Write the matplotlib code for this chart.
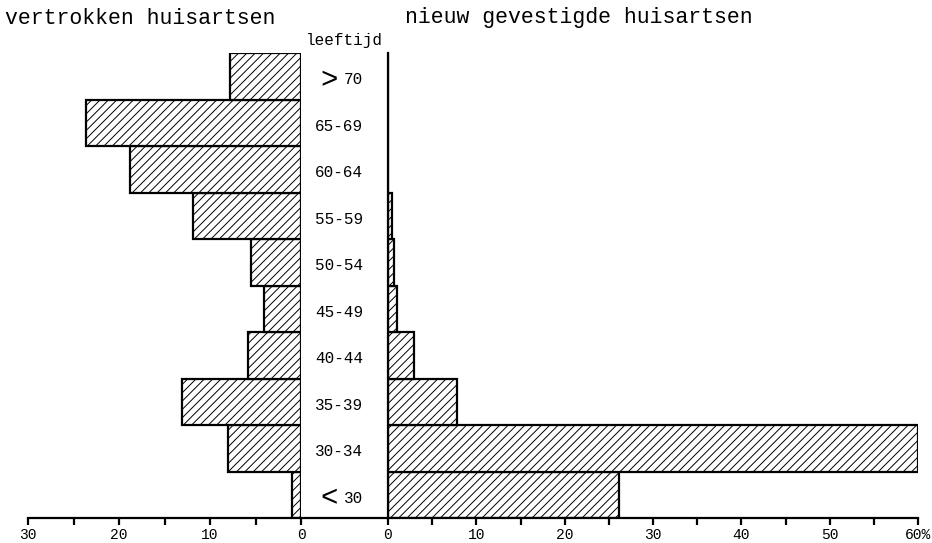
import matplotlib
matplotlib.use('Agg')
import matplotlib.pyplot as plt
from matplotlib import transforms
from matplotlib.lines import Line2D

# leeftijdsklassen, van onder naar boven
ages = ['<30', '30-34', '35-39', '40-44', '45-49', '50-54', '55-59', '60-64', '65-69', '>70']
vertrokken = [1.0, 8.0, 13.1, 5.8, 4.1, 5.5, 11.9, 18.8, 23.6, 7.8]
nieuw = [26.2, 60.0, 7.8, 2.9, 1.0, 0.7, 0.4, 0.0, 0.0, 0.0]
left_ticks = [0, 10, 20, 30]
right_ticks = [0, 10, 20, 30, 40, 50, 60]
right_ticklabels = ['0', '10', '20', '30', '40', '50', '60%']

plt.rcParams['font.family'] = ['Liberation Mono', 'DejaVu Sans Mono']
plt.rcParams['hatch.linewidth'] = 0.7

W, H = 932, 543
fig = plt.figure(figsize=(W / 100, H / 100), dpi=100)


def px(x0, y0, x1, y1):
    # pixel box (top-left origin) -> figure fraction rect
    return [x0 / W, 1 - y1 / H, (x1 - x0) / W, (y1 - y0) / H]


ax_l = fig.add_axes(px(28, 53, 301, 518))
ax_r = fig.add_axes(px(388, 53, 918, 518))

ypos = range(len(ages))
bar_kw = dict(height=1.0, color='white', edgecolor='black', hatch='////', linewidth=1.6)
ax_l.barh(ypos, vertrokken, **bar_kw)
ax_r.barh(ypos, nieuw, **bar_kw)

ax_l.set_xlim(30, 0)
ax_r.set_xlim(0, 60)
for ax in (ax_l, ax_r):
    ax.set_ylim(-0.5, len(ages) - 0.5)
    ax.set_yticks([])
    for s in ('top', 'right', 'left'):
        ax.spines[s].set_visible(False)
    ax.spines['bottom'].set_linewidth(1.6)
    ax.tick_params(axis='x', direction='out', length=5, width=1.6, labelsize=10.5, pad=2)
    ax.tick_params(axis='x', which='minor', direction='out', length=5, width=1.6)
    ax.patch.set_alpha(0)

ax_r.spines['left'].set_visible(True)
ax_r.spines['left'].set_linewidth(1.6)

ax_l.set_xticks(left_ticks)
ax_l.set_xticks([5, 15, 25], minor=True)
ax_r.set_xticks(right_ticks)
ax_r.set_xticklabels(right_ticklabels)
ax_r.set_xticks([5, 15, 25, 35, 45, 55], minor=True)

# doorlopende basislijn tussen de twee panelen
pl, pr = ax_l.get_position(), ax_r.get_position()
fig.add_artist(Line2D([pl.x1, pr.x0], [pl.y0, pl.y0], transform=fig.transFigure,
                      color='black', lw=1.6))

# leeftijdslabels in het midden
tr = transforms.blended_transform_factory(fig.transFigure, ax_l.transData)
for i, lab in enumerate(ages):
    y = i - 0.08
    if lab[0] in '<>':
        fig.text(338 / W, y, lab[0], transform=tr, ha='right', va='center',
                 fontsize=21, fontweight='light')
        fig.text(363 / W, y, lab[1:], transform=tr, ha='right', va='center', fontsize=11.5)
    else:
        fig.text(363 / W, y, lab, transform=tr, ha='right', va='center', fontsize=11.5)

fig.text(5 / W, 1 - 18 / H, 'vertrokken huisartsen', fontsize=15.5, va='center')
fig.text(405 / W, 1 - 18 / H, 'nieuw gevestigde huisartsen', fontsize=15.5, va='center')
fig.text(344 / W, 1 - 40 / H, 'leeftijd', fontsize=11.5, va='center', ha='center')

fig.savefig('out.png', dpi=100)
